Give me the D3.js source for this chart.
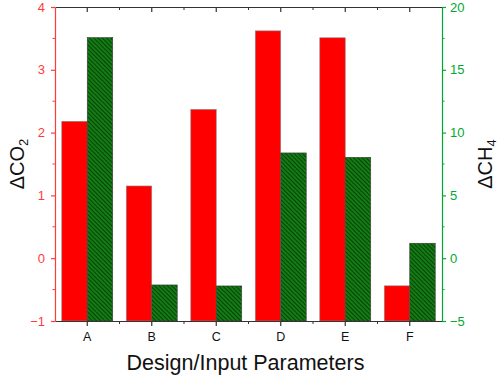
<!DOCTYPE html>
<html>
<head>
<meta charset="utf-8">
<script src="https://cdn.jsdelivr.net/npm/d3@7"></script>
<style>
  body { margin: 0; background: #fff; }
  svg { font-family: "Liberation Sans", Arial, sans-serif; }
</style>
</head>
<body>
<div class="chart"></div>
<script>
const categories = ["A", "B", "C", "D", "E", "F"];
const co2Values = [2.18, 1.15, 2.37, 3.62, 3.51, -0.44];
const ch4Values = [17.56, -2.13, -2.21, 8.38, 8.03, 1.19];
const co2Ticks = [-1, 0, 1, 2, 3, 4];
const ch4Ticks = [-5, 0, 5, 10, 15, 20];

const W = 498, H = 379;
const margin = { top: 7, right: 56, bottom: 58, left: 55 };
const width = W - margin.left - margin.right;
const height = H - margin.top - margin.bottom;

const red = "#ff0000", redAxis = "#ff3b3b", green = "#00a832";

const svg = d3.select(".chart").append("svg")
  .attr("width", W).attr("height", H);

const defs = svg.append("defs");
const pat = defs.append("pattern")
  .attr("id", "hatch")
  .attr("patternUnits", "userSpaceOnUse")
  .attr("width", 3).attr("height", 3)
  .attr("patternTransform", "rotate(45)");
pat.append("rect").attr("width", 3).attr("height", 3).attr("fill", "#167d16");
pat.append("rect").attr("width", 3).attr("height", 1.1).attr("fill", "#044604");

const g = svg.append("g")
  .attr("transform", "translate(" + margin.left + "," + margin.top + ")");

const x = d3.scaleBand().domain(categories).range([0, width]).padding(0);
const yL = d3.scaleLinear().domain([-1, 4]).range([height, 0]);
const yR = d3.scaleLinear().domain([-5, 20]).range([height, 0]);

const pad = x.bandwidth() * 0.105;
const bw = (x.bandwidth() - 2 * pad) / 2;

// red bars (CO2)
g.selectAll(".co2")
  .data(categories)
  .enter().append("rect")
  .attr("x", (d) => x(d) + pad)
  .attr("width", bw)
  .attr("y", (d, i) => yL(co2Values[i]))
  .attr("height", (d, i) => height - yL(co2Values[i]))
  .attr("fill", red)
  .attr("stroke", "#8a8a8a")
  .attr("stroke-width", 0.6);

// green hatched bars (CH4)
g.selectAll(".ch4")
  .data(categories)
  .enter().append("rect")
  .attr("x", (d) => x(d) + pad + bw)
  .attr("width", bw)
  .attr("y", (d, i) => yR(ch4Values[i]))
  .attr("height", (d, i) => height - yR(ch4Values[i]))
  .attr("fill", "url(#hatch)")
  .attr("stroke", "#3a3a3a")
  .attr("stroke-width", 0.6);

// minor tick positions between categories
const bounds = d3.range(categories.length + 1).map((i) => i * x.bandwidth());

// bottom axis
const bottomAxis = g.append("g").attr("transform", "translate(0," + height + ")");
bottomAxis.call(d3.axisBottom(x).tickSize(5).tickSizeOuter(0));
bottomAxis.select(".domain").attr("stroke", "#333").attr("stroke-width", 1.2);
bottomAxis.selectAll(".tick line").attr("stroke", "#333").attr("stroke-width", 1.2);
bottomAxis.selectAll(".tick text").attr("font-size", 12.5).attr("fill", "#111").attr("dy", "0.95em");
bottomAxis.selectAll(".minor").data(bounds.slice(1, -1)).enter().append("line")
  .attr("x1", (d) => d).attr("x2", (d) => d)
  .attr("y1", 0).attr("y2", 3)
  .attr("stroke", "#333").attr("stroke-width", 1);

// top axis
const topAxis = g.append("g");
topAxis.call(d3.axisTop(x).tickSize(-5).tickSizeOuter(0).tickFormat(""));
topAxis.select(".domain").attr("stroke", "#333").attr("stroke-width", 1.2);
topAxis.selectAll(".tick line").attr("stroke", "#333").attr("stroke-width", 1.2);
topAxis.selectAll(".minor").data(bounds.slice(1, -1)).enter().append("line")
  .attr("x1", (d) => d).attr("x2", (d) => d)
  .attr("y1", 0).attr("y2", 3)
  .attr("stroke", "#333").attr("stroke-width", 1);

// left axis (CO2)
const leftAxis = g.append("g");
leftAxis.call(d3.axisLeft(yL).tickValues(co2Ticks).tickFormat(d3.format("d"))
  .tickSize(4).tickSizeOuter(0).tickPadding(6));
leftAxis.select(".domain").attr("stroke", redAxis).attr("stroke-width", 1.2);
leftAxis.selectAll(".tick line").attr("stroke", redAxis).attr("stroke-width", 1.2);
leftAxis.selectAll(".tick text").attr("font-size", 13).attr("fill", redAxis);
leftAxis.selectAll(".minor").data(co2Ticks.slice(0, -1).map((v) => v + 0.5)).enter().append("line")
  .attr("x1", -2.5).attr("x2", 0)
  .attr("y1", (d) => yL(d)).attr("y2", (d) => yL(d))
  .attr("stroke", redAxis).attr("stroke-width", 1);

// right axis (CH4)
const rightAxis = g.append("g").attr("transform", "translate(" + width + ",0)");
rightAxis.call(d3.axisRight(yR).tickValues(ch4Ticks).tickFormat(d3.format("d"))
  .tickSize(4).tickSizeOuter(0).tickPadding(4));
rightAxis.select(".domain").attr("stroke", green).attr("stroke-width", 1.2);
rightAxis.selectAll(".tick line").attr("stroke", green).attr("stroke-width", 1.2);
rightAxis.selectAll(".tick text").attr("font-size", 13).attr("fill", green);
rightAxis.selectAll(".minor").data(ch4Ticks.slice(0, -1).map((v) => v + 2.5)).enter().append("line")
  .attr("x1", 0).attr("x2", 2.5)
  .attr("y1", (d) => yR(d)).attr("y2", (d) => yR(d))
  .attr("stroke", green).attr("stroke-width", 1);

// axis titles
const t1 = svg.append("text")
  .attr("transform", "translate(24," + (margin.top + height / 2) + ") rotate(-90)")
  .attr("text-anchor", "middle")
  .attr("font-size", 20).attr("fill", "#111");
t1.append("tspan").text("\u0394CO");
t1.append("tspan").attr("font-size", 13).attr("dy", 4).text("2");

const t2 = svg.append("text")
  .attr("transform", "translate(492," + (margin.top + height / 2) + ") rotate(-90)")
  .attr("text-anchor", "middle")
  .attr("font-size", 20).attr("fill", "#111");
t2.append("tspan").text("\u0394CH");
t2.append("tspan").attr("font-size", 13).attr("dy", 4).text("4");

svg.append("text")
  .attr("x", margin.left + width / 2 - 3)
  .attr("y", 370)
  .attr("text-anchor", "middle")
  .attr("font-size", 21.5).attr("fill", "#111")
  .text("Design/Input Parameters");
</script>
</body>
</html>
